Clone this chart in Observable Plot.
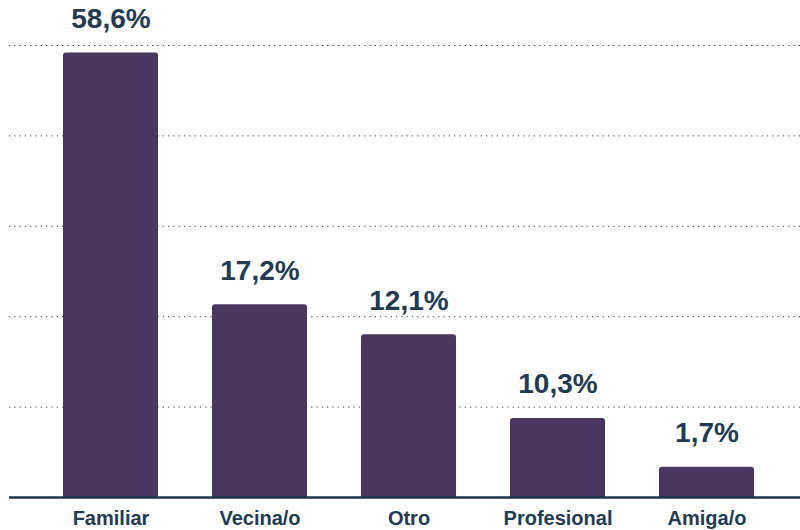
<!DOCTYPE html>
<html>
<head>
<meta charset="utf-8">
<script src="https://cdn.jsdelivr.net/npm/d3@7"></script>
<script src="https://cdn.jsdelivr.net/npm/@observablehq/plot@0.6"></script>
<style>
  html, body { margin: 0; padding: 0; background: #fff; overflow: hidden; }
  #chart svg { display: block; }
</style>
</head>
<body>
<div id="chart"></div>
<script>
// Categories and values
const categories = ["Familiar", "Vecina/o", "Otro", "Profesional", "Amiga/o"];
// bar heights as drawn (on the gridline scale 0–60)
const barValues = [59.0, 25.6, 21.6, 10.5, 4.0];
// value labels printed above the bars
const labels = ["58,6%", "17,2%", "12,1%", "10,3%", "1,7%"];
// gridline ticks
const gridTicks = [12, 24, 36, 48, 60];

const data = categories.map((c, i) => ({cat: c, bar: barValues[i], label: labels[i]}));

const textColor = "#243a51";
const barColor = "#4a3760";

const chart = Plot.plot({
  width: 800,
  height: 530,
  marginTop: 45,
  marginBottom: 33,
  marginLeft: 9,
  marginRight: 0,
  style: {fontFamily: "'Liberation Sans', Arial, sans-serif", background: "#fff"},
  x: {domain: categories, paddingInner: 0.36, paddingOuter: 0.333, align: 0.544, label: null},
  y: {domain: [0, 60], axis: null},
  marks: [
    Plot.ruleY(gridTicks, {stroke: "#444", strokeWidth: 1, strokeDasharray: "1.3,4"}),
    Plot.barY(data, {x: "cat", y: "bar", fill: barColor, rx: 3, insetBottom: -5, clip: true}),
    Plot.ruleY([0], {stroke: "#1e3448", strokeWidth: 2.5}),
    Plot.text(data, {x: "cat", y: "bar", text: "label", dy: -25, lineAnchor: "bottom",
      fontSize: 28, fontWeight: "bold", fill: textColor}),
    Plot.axisX({tickSize: 0, tickPadding: 13, fontSize: 20, fontWeight: "bold", color: textColor, label: null})
  ]
});
document.getElementById("chart").append(chart);
</script>
</body>
</html>
